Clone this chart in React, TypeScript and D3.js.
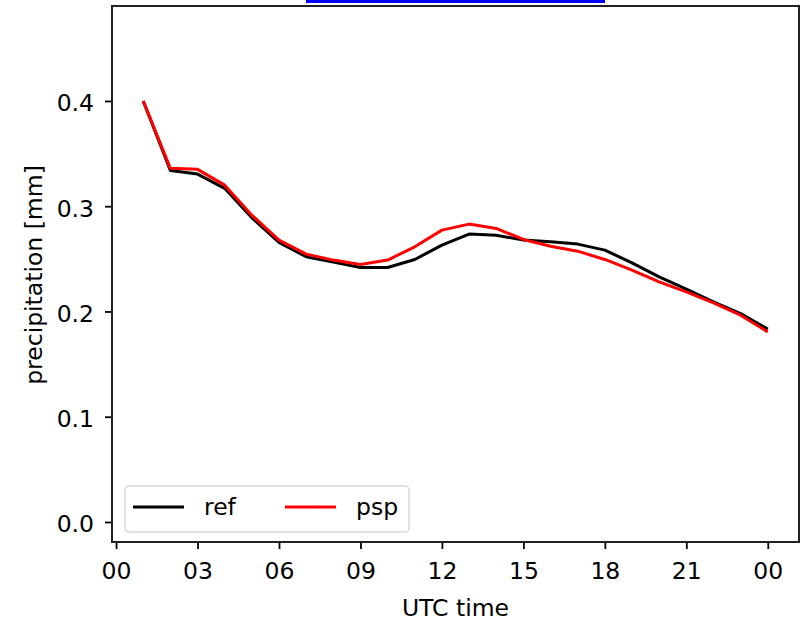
import React, { useEffect, useRef } from 'react';
import * as d3 from 'd3';

// hours after 00 UTC (24 = 00 next day)
const hours = [1, 2, 3, 4, 5, 6, 7, 8, 9, 10, 11, 12, 13, 14, 15, 16, 17, 18, 19, 20, 21, 22, 23, 24];
const refValues = [0.4, 0.334, 0.3305, 0.317, 0.289, 0.2656, 0.252, 0.2469, 0.2418, 0.2418, 0.2494, 0.263,
  0.2735, 0.2725, 0.2678, 0.2662, 0.264, 0.2583, 0.2462, 0.2329, 0.2212, 0.2091, 0.198, 0.1832];
const pspValues = [0.4, 0.336, 0.335, 0.32, 0.2915, 0.2678, 0.2545, 0.2488, 0.2447, 0.2488, 0.2614, 0.2773,
  0.283, 0.2789, 0.2684, 0.262, 0.2573, 0.2494, 0.2393, 0.2281, 0.2186, 0.2082, 0.1965, 0.1806];
const xTicks = [0, 3, 6, 9, 12, 15, 18, 21, 24];
const yTicks = [0, 0.1, 0.2, 0.3, 0.4];
const seriesNames = ['ref', 'psp'];
const seriesColors = ['#000000', '#ff0000'];

const App = () => {
  const chartRef = useRef<SVGSVGElement>(null);

  useEffect(() => {
    const margin = { top: 6, right: 2, bottom: 79, left: 112 };
    const width = 801 - margin.left - margin.right;
    const height = 621 - margin.top - margin.bottom;
    const font = 'DejaVu Sans, sans-serif';
    const fontSize = 23.5;

    const svg = d3.select(chartRef.current);
    svg.selectAll('*').remove();

    // stray blue bar cut off at the top of the picture
    svg.append('rect').attr('x', 306).attr('y', 0).attr('width', 299).attr('height', 3).attr('fill', '#0000ff');

    const chart = svg.append('g').attr('transform', `translate(${margin.left},${margin.top})`);

    const xScale = d3.scaleLinear().domain([-0.15, 25.15]).range([0, width]);
    const yScale = d3.scaleLinear().domain([-0.019, 0.4902]).range([height, 0]);

    const line = d3.line<number>()
      .x((d, i) => xScale(hours[i]))
      .y((d) => yScale(d));

    [refValues, pspValues].forEach((vals, k) => {
      chart.append('path')
        .datum(vals)
        .attr('d', line)
        .attr('fill', 'none')
        .attr('stroke', seriesColors[k])
        .attr('stroke-width', 3)
        .attr('stroke-linejoin', 'round');
    });

    // x-axis
    const xAxis = chart.append('g')
      .attr('transform', `translate(0,${height})`)
      .call(d3.axisBottom(xScale).tickValues(xTicks).tickSize(7).tickPadding(13)
        .tickFormat((d) => String(+d % 24).padStart(2, '0')));

    // y-axis
    const yAxis = chart.append('g')
      .call(d3.axisLeft(yScale).tickValues(yTicks).tickSize(7).tickPadding(11).tickFormat(d3.format('.1f')));

    [xAxis, yAxis].forEach((ax) => {
      ax.select('.domain').remove();
      ax.selectAll('line').attr('stroke', '#000').attr('stroke-width', 1.8);
      ax.selectAll('text').attr('font-family', font).attr('font-size', fontSize).attr('fill', '#000');
    });
    yAxis.selectAll('text').attr('dy', '0.42em');

    // frame
    chart.append('rect')
      .attr('x', 0).attr('y', 0).attr('width', width).attr('height', height)
      .attr('fill', 'none').attr('stroke', '#222').attr('stroke-width', 2);

    // axis labels
    svg.append('text')
      .attr('x', margin.left + width / 2).attr('y', 616)
      .attr('text-anchor', 'middle').attr('font-family', font).attr('font-size', fontSize)
      .text('UTC time');
    svg.append('text')
      .attr('transform', 'translate(42,275) rotate(-90)')
      .attr('text-anchor', 'middle').attr('font-family', font).attr('font-size', fontSize)
      .text('precipitation [mm]');

    // legend
    const legend = svg.append('g').attr('transform', 'translate(125,486)');
    legend.append('rect')
      .attr('x', 0).attr('y', 0).attr('width', 284).attr('height', 46).attr('rx', 4)
      .attr('fill', '#fff').attr('fill-opacity', 0.8).attr('stroke', '#d8d8d8').attr('stroke-width', 1.5);
    seriesNames.forEach((name, k) => {
      const x0 = 8 + k * 152;
      legend.append('line')
        .attr('x1', x0).attr('x2', x0 + 51).attr('y1', 21).attr('y2', 21)
        .attr('stroke', seriesColors[k]).attr('stroke-width', 3);
      legend.append('text')
        .attr('x', x0 + 71).attr('y', 29)
        .attr('font-family', font).attr('font-size', fontSize)
        .text(name);
    });
  }, []);

  return (
    <svg ref={chartRef} width={801} height={621}
      style={{ position: 'absolute', left: 0, top: 0, background: '#fff' }}></svg>
  );
};

export default App;
